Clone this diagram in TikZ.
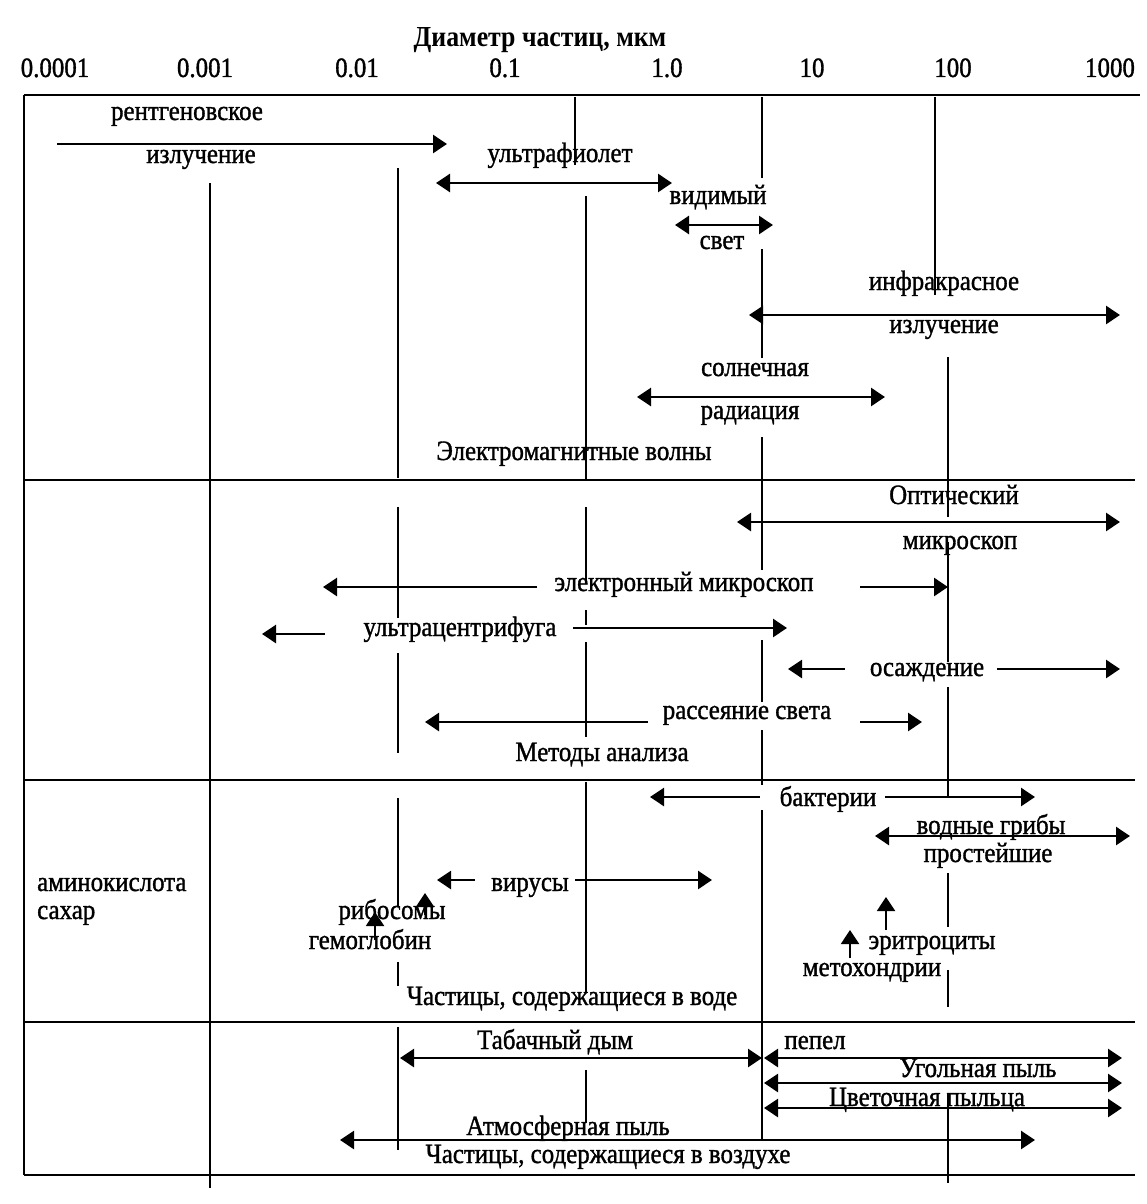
\documentclass[tikz,border=0pt]{standalone}
\usepackage{fontspec}
\setmainfont{Liberation Serif}
\newfontfamily\lblfont{Liberation Serif}[FakeStretch=0.89,FakeBold=1.2]
\newfontfamily\hdrfont{Liberation Serif Bold}[FakeStretch=0.89]
\usetikzlibrary{arrows.meta}
\begin{document}
\begin{tikzpicture}[x=1pt,y=-1pt,
  lbl/.style={inner sep=0pt,anchor=base,font=\lblfont\fontsize{28}{32}\selectfont},
  hdr/.style={inner sep=0pt,anchor=base,font=\hdrfont\fontsize{29}{32}\selectfont},
  frame/.style={line width=2pt},
  vline/.style={line width=1.8pt},
  arr/.style={line width=2.6pt,-{Triangle[length=14pt,width=18pt]}},
  darr/.style={line width=2.6pt,{Triangle[length=14pt,width=18pt]}-{Triangle[length=14pt,width=18pt]}}]
\useasboundingbox (0,0) rectangle (1147,1204);
% header and scale
\node[hdr] (title) at (540,47) {Диаметр частиц, мкм};
\node[lbl] (s1) at (55,77) {0.0001};
\node[lbl] (s2) at (205,77) {0.001};
\node[lbl] (s3) at (357,77) {0.01};
\node[lbl] (s4) at (505,77) {0.1};
\node[lbl] (s5) at (667,77) {1.0};
\node[lbl] (s6) at (812,77) {10};
\node[lbl] (s7) at (953,77) {100};
\node[lbl] (s8) at (1110,77) {1000};
% frame
\draw[frame] (24,95) -- (1140,95);
\draw[frame] (24,480) -- (1135,480);
\draw[frame] (24,780) -- (1135,780);
\draw[frame] (24,1022) -- (1135,1022);
\draw[frame] (24,1175) -- (1135,1175);
\draw[vline] (24,95) -- (24,1175);
% vertical grid segments
\draw[vline] (210,183) -- (210,1188);
\foreach \a/\b in {168/478,507/618,653/753,798/907,962/986,1027/1150}
  \draw[vline] (398,\a) -- (398,\b);
\draw[vline] (575,97) -- (575,165);
\foreach \a/\b in {196/480,507/583,610/625,642/737,782/993,1070/1123}
  \draw[vline] (586,\a) -- (586,\b);
\foreach \a/\b in {97/178,249/358,437/570,640/702,730/785,810/1140}
  \draw[vline] (762,\a) -- (762,\b);
\draw[vline] (935,97) -- (935,295);
\foreach \a/\b in {357/517,542/662,687/797,873/927,970/1007,1093/1183}
  \draw[vline] (948,\a) -- (948,\b);
% zone 1
\node[lbl] (xray1) at (187,120) {рентгеновское};
\node[lbl] (xray2) at (201,163) {излучение};
\coordinate (xa) at (57,144); \coordinate (xb) at (447,144);
\draw[arr] (xa) -- (xb);
\node[lbl] (uv) at (560,162) {ультрафиолет};
\coordinate (ua) at (436,183); \coordinate (ub) at (672,183);
\draw[darr] (ua) -- (ub);
\node[lbl] (vis1) at (718,204) {видимый};
\node[lbl] (vis2) at (722,249) {свет};
\coordinate (va) at (675,225); \coordinate (vb) at (773,225);
\draw[darr] (va) -- (vb);
\node[lbl] (ir1) at (944,290) {инфракрасное};
\node[lbl] (ir2) at (944,333) {излучение};
\coordinate (ia) at (749,315); \coordinate (ib) at (1120,315);
\draw[darr] (ia) -- (ib);
\node[lbl] (sol1) at (755,376) {солнечная};
\node[lbl] (sol2) at (750,419) {радиация};
\coordinate (sa) at (637,397); \coordinate (sb) at (885,397);
\draw[darr] (sa) -- (sb);
\node[lbl] (em) at (574,460) {Электромагнитные волны};
% zone 2
\node[lbl] (opt1) at (954,504) {Оптический};
\node[lbl] (opt2) at (960,549) {микроскоп};
\coordinate (oa) at (737,522); \coordinate (ob) at (1120,522);
\draw[darr] (oa) -- (ob);
\node[lbl] (el) at (684,591) {электронный микроскоп};
\coordinate (ea1) at (537,587); \coordinate (ea2) at (323,587);
\coordinate (eb1) at (860,587); \coordinate (eb2) at (948,587);
\draw[arr] (ea1) -- (ea2);
\draw[arr] (eb1) -- (eb2);
\node[lbl] (uc) at (460,636) {ультрацентрифуга};
\coordinate (ca1) at (325,634); \coordinate (ca2) at (262,634);
\coordinate (cb1) at (573,628); \coordinate (cb2) at (787,628);
\draw[arr] (ca1) -- (ca2);
\draw[arr] (cb1) -- (cb2);
\node[lbl] (sed) at (927,676) {осаждение};
\coordinate (da1) at (845,669); \coordinate (da2) at (788,669);
\coordinate (db1) at (997,669); \coordinate (db2) at (1120,669);
\draw[arr] (da1) -- (da2);
\draw[arr] (db1) -- (db2);
\node[lbl] (scat) at (747,719) {рассеяние света};
\coordinate (ra1) at (648,722); \coordinate (ra2) at (425,722);
\coordinate (rb1) at (860,722); \coordinate (rb2) at (922,722);
\draw[arr] (ra1) -- (ra2);
\draw[arr] (rb1) -- (rb2);
\node[lbl] (meth) at (602,761) {Методы анализа};
% zone 3
\node[lbl] (bact) at (828,806) {бактерии};
\coordinate (ba1) at (760,797); \coordinate (ba2) at (650,797);
\coordinate (bb1) at (885,797); \coordinate (bb2) at (1035,797);
\draw[arr] (ba1) -- (ba2);
\draw[arr] (bb1) -- (bb2);
\node[lbl] (fung) at (991,834) {водные грибы};
\node[lbl] (prot) at (988,862) {простейшие};
\coordinate (fa) at (875,836); \coordinate (fb) at (1130,836);
\draw[darr] (fa) -- (fb);
\node[lbl,anchor=base west] (amino) at (37,891) {аминокислота};
\node[lbl,anchor=base west] (sug) at (37,919) {сахар};
\node[lbl] (vir) at (530,891) {вирусы};
\coordinate (wa1) at (475,880); \coordinate (wa2) at (437,880);
\coordinate (wb1) at (575,880); \coordinate (wb2) at (712,880);
\draw[arr] (wa1) -- (wa2);
\draw[arr] (wb1) -- (wb2);
\node[lbl] (ribo) at (392,919) {рибосомы};
\coordinate (rib1) at (425,915); \coordinate (rib2) at (425,893);
\draw[arr,line width=2pt] (rib1) -- (rib2);
\node[lbl] (hemo) at (370,949) {гемоглобин};
\coordinate (hem1) at (375,940); \coordinate (hem2) at (375,912);
\draw[arr,line width=2pt] (hem1) -- (hem2);
\node[lbl] (eryt) at (932,949) {эритроциты};
\coordinate (er1) at (886,930); \coordinate (er2) at (886,897);
\draw[arr,line width=2pt] (er1) -- (er2);
\node[lbl] (mito) at (872,976) {метохондрии};
\coordinate (mi1) at (850,958); \coordinate (mi2) at (850,930);
\draw[arr,line width=2pt] (mi1) -- (mi2);
\node[lbl] (water) at (572,1005) {Частицы, содержащиеся в воде};
% zone 4
\node[lbl] (tob) at (555,1049) {Табачный дым};
\coordinate (ta) at (400,1058); \coordinate (tb) at (762,1058);
\draw[darr] (ta) -- (tb);
\node[lbl] (ash) at (815,1049) {пепел};
\coordinate (aa) at (764,1058); \coordinate (ab) at (1122,1058);
\draw[darr] (aa) -- (ab);
\node[lbl] (coal) at (978,1077) {Угольная пыль};
\coordinate (ka) at (764,1083); \coordinate (kb) at (1122,1083);
\draw[darr] (ka) -- (kb);
\node[lbl] (pol) at (927,1106) {Цветочная пыльца};
\coordinate (pa) at (764,1108); \coordinate (pb) at (1122,1108);
\draw[darr] (pa) -- (pb);
\node[lbl] (atm) at (568,1135) {Атмосферная пыль};
\coordinate (ma) at (340,1140); \coordinate (mb) at (1035,1140);
\draw[darr] (ma) -- (mb);
\node[lbl] (air) at (608,1163) {Частицы, содержащиеся в воздухе};
\end{tikzpicture}
\end{document}
